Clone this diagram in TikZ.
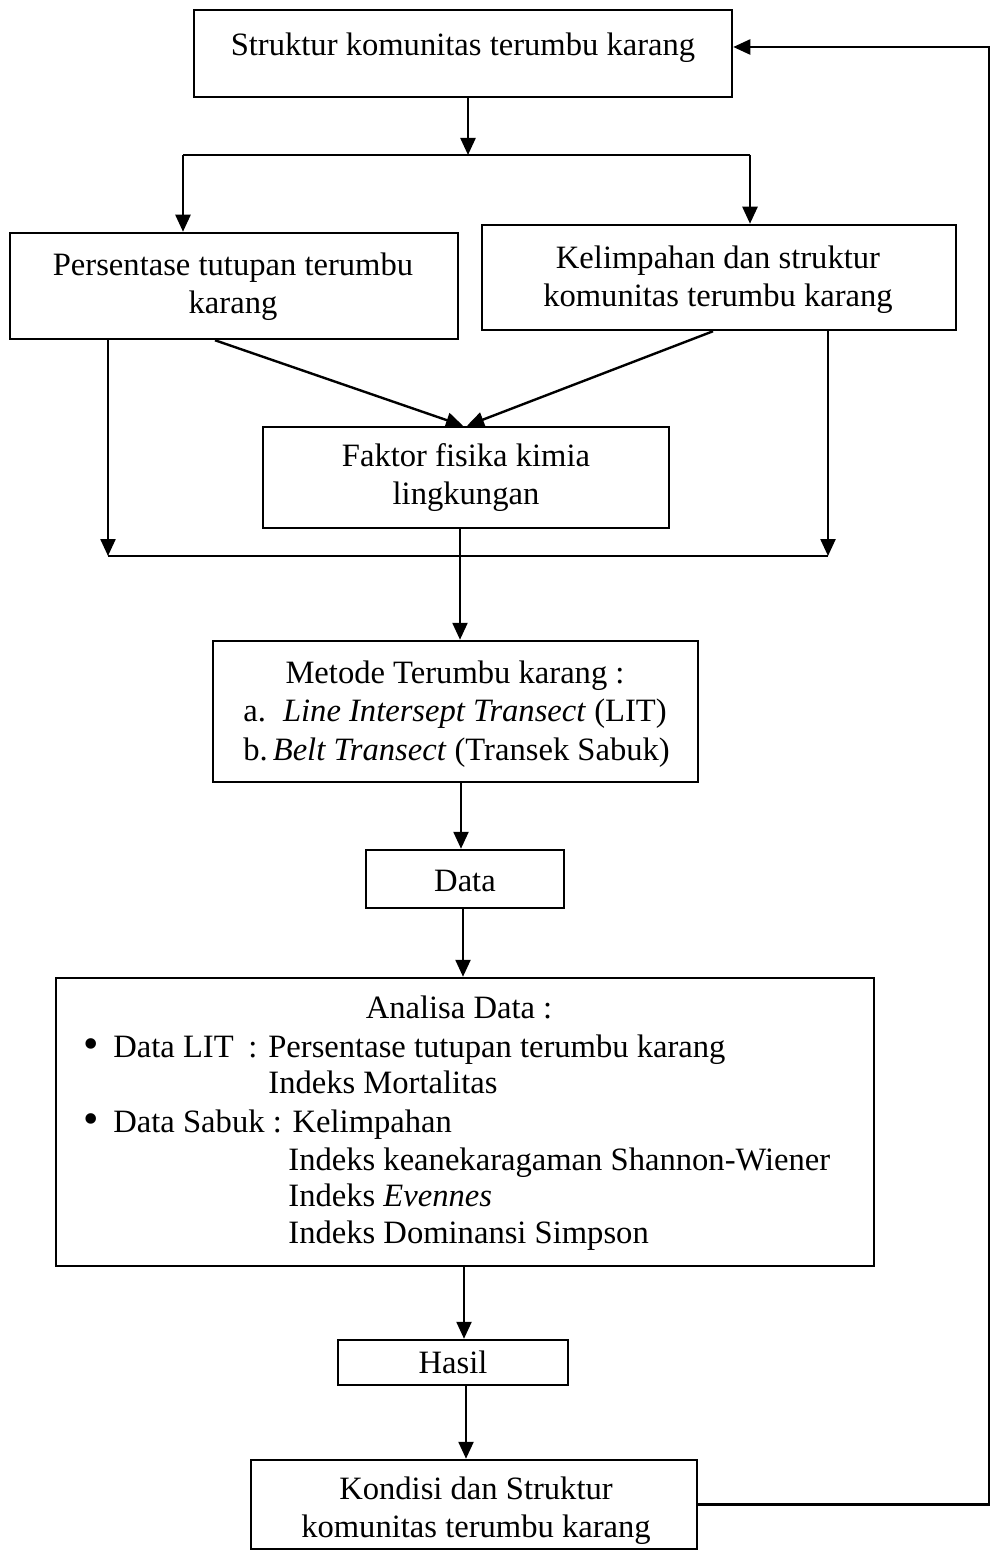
\documentclass[tikz,border=0pt]{standalone}
\usepackage{fontspec}
\setmainfont{Liberation Serif}
\usetikzlibrary{arrows.meta}
\tikzset{
  box/.style={draw, line width=1.25pt, inner sep=0pt},
  txt/.style={inner sep=0pt, align=center, font=\fontsize{16.3}{19}\selectfont},
  arr/.style={line width=1.2pt, -{Triangle[length=8.5pt,width=7.5pt]}},
  ln/.style={line width=1.2pt},
}
\newcommand{\mybox}[5]{\node[box, minimum width={(#4-#2)*0.5pt}, minimum height={(#5-#3)*0.5pt}] (#1) at ({(#2+#4)/2},{(#3+#5)/2}) {};}
\newcommand{\bigbul}{\makebox[15pt][l]{\raisebox{-0.8pt}{\fontsize{22}{19}\selectfont\textbullet}}}
\begin{document}
\begin{tikzpicture}[x=0.5pt,y=-0.5pt]
\useasboundingbox (0,0) rectangle (992,1551);
% boxes
\mybox{top}{194}{10}{732}{97}
\mybox{lb}{10}{233}{458}{339}
\mybox{rb}{482}{225}{956}{330}
\mybox{mid}{263}{427}{669}{528}
\mybox{met}{213}{641}{698}{782}
\mybox{dat}{366}{850}{564}{908}
\mybox{ana}{56}{978}{874}{1266}
\mybox{has}{338}{1340}{568}{1385}
\mybox{kon}{251}{1460}{697}{1549}
% texts
\node[txt, anchor=base] (tt) at (463,56) {Struktur komunitas terumbu karang};
\node[txt] (lt) at (233,287) {Persentase tutupan terumbu\\karang};
\node[txt] (rt) at (718,280) {Kelimpahan dan struktur\\komunitas terumbu karang};
\node[txt] (mt) at (466,478) {Faktor fisika kimia\\lingkungan};
\node[txt, anchor=base] (m1) at (455,683) {Metode Terumbu karang :};
\node[txt, anchor=base west] (m2) at (243,721) {a.\hspace{8.5pt}\textit{Line Intersept Transect} (LIT)};
\node[txt, anchor=base west] (m3) at (243,760) {b.\hspace{2.5pt}\textit{Belt Transect} (Transek Sabuk)};
\node[txt, anchor=base] (dt) at (465,891) {Data};
\node[txt, anchor=base] (a1) at (459,1018) {Analisa Data :};
\node[txt, anchor=base west] (a2) at (83,1057) {\bigbul Data LIT};
\node[txt, anchor=base west] (a3) at (248,1057) {: Persentase tutupan terumbu karang};
\node[txt, anchor=base west] (a4) at (268,1093) {Indeks Mortalitas};
\node[txt, anchor=base west] (a5) at (83,1132) {\bigbul Data Sabuk : Kelimpahan};
\node[txt, anchor=base west] (a6) at (288,1170) {Indeks keanekaragaman Shannon-Wiener};
\node[txt, anchor=base west] (a7) at (288,1206) {Indeks \textit{Evennes}};
\node[txt, anchor=base west] (a8) at (288,1243) {Indeks Dominansi Simpson};
\node[txt, anchor=base] (ht) at (453,1373) {Hasil};
\node[txt] (kt) at (476,1511) {Kondisi dan Struktur\\komunitas terumbu karang};
% junction coordinates
\coordinate (j1) at (468,155);
\coordinate (jl) at (183,155);
\coordinate (jr) at (750,155);
\coordinate (dl) at (215,0);
\coordinate (dr) at (713,0);
\coordinate (tipl) at (463,0);
\coordinate (tipr) at (467,0);
\coordinate (hl) at (108,556);
\coordinate (hr) at (828,556);
\coordinate (v1) at (460,0);
\coordinate (v2) at (461,0);
\coordinate (v3) at (463,0);
\coordinate (v4) at (464,0);
\coordinate (v5) at (466,0);
\coordinate (fb) at (989,47);
% connectors
\draw[arr] (j1 |- top.south) -- (j1);
\draw[ln] (jl) -- (jr);
\draw[arr] (jl) -- (jl |- lb.north);
\draw[arr] (jr) -- (jr |- rb.north);
\draw[arr] (dl |- lb.south) -- (tipl |- mid.north);
\draw[arr] (dr |- rb.south) -- (tipr |- mid.north);
\draw[arr] (hl |- lb.south) -- (hl);
\draw[arr] (hr |- rb.south) -- (hr);
\draw[ln] (hl) -- (hr);
\draw[arr] (v1 |- mid.south) -- (v1 |- met.north);
\draw[arr] (v2 |- met.south) -- (v2 |- dat.north);
\draw[arr] (v3 |- dat.south) -- (v3 |- ana.north);
\draw[arr] (v4 |- ana.south) -- (v4 |- has.north);
\draw[arr] (v5 |- has.south) -- (v5 |- kon.north);
\draw[arr] (kon.east) -| (fb) -- (fb -| top.east);
\end{tikzpicture}
\end{document}
